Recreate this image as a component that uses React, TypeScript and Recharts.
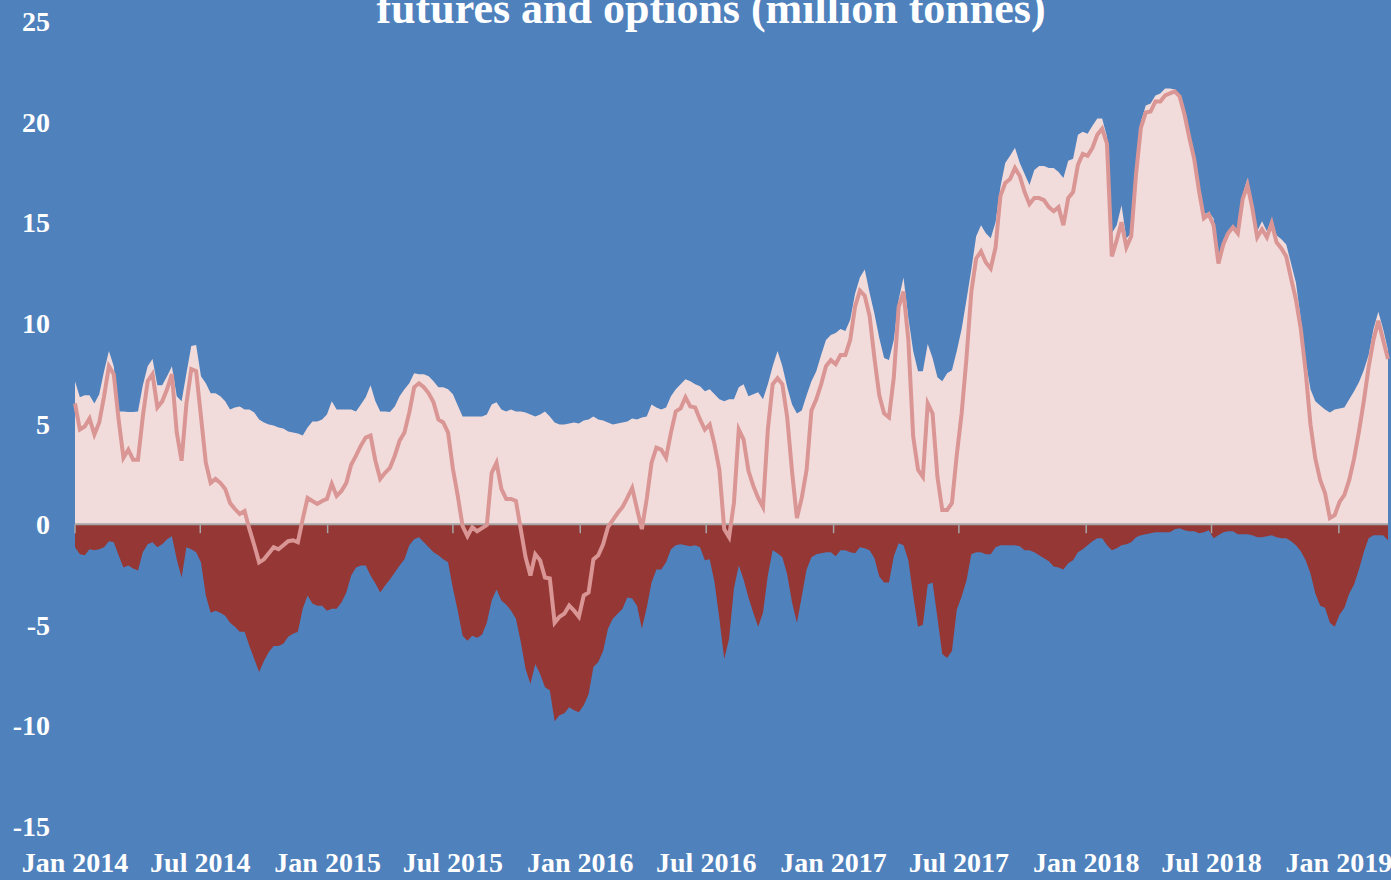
import React from 'react';
import { ComposedChart, Area, Line, XAxis, YAxis, ReferenceLine } from 'recharts';

// Weekly positions, starting first week of January 2014 (million tonnes)
const longPos = [
  7.1, 6.3, 6.4, 6.4, 6.0, 6.45, 7.6, 8.6, 7.85, 5.6,
  5.6, 5.57, 5.57, 5.6, 6.9, 7.85, 8.2, 6.9, 6.9, 7.35,
  7.85, 6.35, 6.1, 7.5, 8.85, 8.9, 7.35, 7.0, 6.5, 6.5,
  6.35, 6.1, 5.7, 5.8, 5.85, 5.7, 5.7, 5.55, 5.2, 5.05,
  4.95, 4.9, 4.8, 4.75, 4.6, 4.55, 4.5, 4.4, 4.8, 5.1,
  5.1, 5.2, 5.45, 6.1, 5.7, 5.7, 5.7, 5.7, 5.6, 5.95,
  6.3, 6.9, 6.1, 5.6, 5.6, 5.57, 5.85, 6.35, 6.7, 7.0,
  7.5, 7.45, 7.45, 7.35, 7.1, 6.8, 6.8, 6.7, 6.45, 5.9,
  5.35, 5.35, 5.35, 5.35, 5.35, 5.45, 5.95, 6.05, 5.7, 5.6,
  5.7, 5.6, 5.6, 5.55, 5.45, 5.35, 5.45, 5.6, 5.35, 5.05,
  4.95, 4.95, 5.0, 5.05, 5.0, 5.15, 5.2, 5.35, 5.2, 5.15,
  5.05, 4.95, 5.0, 5.05, 5.1, 5.25, 5.2, 5.3, 5.35, 5.95,
  5.8, 5.7, 5.8, 6.35, 6.7, 6.95, 7.2, 7.1, 6.95, 6.85,
  6.6, 6.7, 6.45, 6.2, 6.1, 6.2, 6.2, 6.8, 6.95, 6.35,
  6.45, 6.55, 6.2, 6.95, 7.85, 8.6, 7.85, 6.8, 5.95, 5.5,
  5.65, 6.4, 7.1, 7.6, 8.4, 9.15, 9.4, 9.5, 9.7, 9.6,
  10.15, 11.45, 12.25, 12.65, 11.5, 10.45, 9.25, 8.25, 8.15, 9.15,
  11.15, 12.25, 10.25, 8.6, 7.6, 7.6, 8.95, 8.25, 7.3, 7.1,
  7.5, 7.65, 8.6, 9.7, 11.15, 12.65, 14.3, 14.85, 14.45, 14.2,
  15.0, 16.75, 17.95, 18.3, 18.7, 17.95, 17.4, 16.85, 17.6, 17.8,
  17.8, 17.7, 17.7, 17.5, 17.2, 18.05, 18.15, 19.35, 19.5, 19.4,
  19.8, 20.15, 20.15, 19.25, 14.45, 14.85, 15.85, 14.2, 14.45, 17.2,
  20.0, 20.8, 20.9, 21.3, 21.4, 21.65, 21.65, 21.6, 21.35, 20.55,
  19.4, 18.25, 16.55, 15.4, 15.5, 15.2, 12.95, 14.1, 14.55, 14.85,
  14.55, 16.35, 17.2, 16.0, 14.55, 15.05, 14.55, 15.2, 14.35, 14.15,
  13.9, 12.95, 12.0, 10.2, 8.1, 6.7, 6.1, 5.9, 5.7, 5.55,
  5.7, 5.75, 5.8, 6.2, 6.6, 7.05, 7.65, 8.4, 9.7, 10.55,
  9.7, 8.65,
];

const shortPos = [
  -1.15, -1.5, -1.55, -1.25, -1.3, -1.25, -1.15, -0.85, -0.9, -1.55,
  -2.15, -2.05, -2.2, -2.3, -1.4, -1.0, -0.9, -1.15, -1.0, -0.75,
  -0.6, -1.75, -2.65, -1.15, -1.25, -1.4, -1.9, -3.55, -4.4, -4.3,
  -4.4, -4.55, -4.9, -5.1, -5.35, -5.35, -6.05, -6.7, -7.35, -6.8,
  -6.35, -6.05, -6.05, -5.95, -5.6, -5.45, -5.35, -4.2, -3.55, -3.95,
  -4.05, -4.05, -4.3, -4.2, -4.2, -3.9, -3.4, -2.55, -2.15, -2.05,
  -2.05, -2.55, -2.95, -3.4, -3.05, -2.75, -2.4, -2.05, -1.75, -1.05,
  -0.75, -0.65, -0.9, -1.15, -1.4, -1.55, -1.75, -1.9, -3.2, -4.3,
  -5.55, -5.8, -5.55, -5.65, -5.5, -4.9, -3.8, -3.25, -3.8, -4.0,
  -4.3, -4.7, -5.85, -7.2, -7.95, -6.95, -7.45, -8.1, -8.25, -9.8,
  -9.5, -9.4, -9.1, -9.25, -9.35, -9.0, -8.45, -7.1, -6.85, -6.3,
  -5.2, -4.7, -4.45, -4.2, -3.65, -3.7, -4.05, -5.2, -4.15, -2.9,
  -2.25, -2.25, -1.9, -1.25, -1.05, -1.0, -1.05, -1.1, -1.05, -1.15,
  -1.8, -1.75, -2.9, -4.7, -6.7, -5.7, -3.2, -2.05, -2.75, -3.65,
  -4.4, -5.1, -4.4, -2.55, -1.3, -1.45, -1.65, -2.5, -3.9, -4.9,
  -3.6, -2.25, -1.65, -1.5, -1.45, -1.4, -1.4, -1.6, -1.3, -1.3,
  -1.4, -1.45, -1.15, -1.2, -1.3, -1.7, -2.6, -2.9, -2.9, -1.6,
  -0.95, -1.05, -1.8, -3.55, -5.1, -5.0, -3.0, -2.9, -4.65, -6.45,
  -6.65, -6.3, -4.25, -3.6, -2.8, -1.5, -1.4, -1.4, -1.5, -1.5,
  -1.15, -1.05, -1.05, -1.05, -1.05, -1.1, -1.3, -1.3, -1.4, -1.55,
  -1.7, -1.85, -2.1, -2.15, -2.25, -1.95, -1.8, -1.4, -1.25, -1.05,
  -0.85, -0.7, -0.7, -1.05, -1.3, -1.2, -1.05, -1.0, -0.9, -0.65,
  -0.55, -0.5, -0.45, -0.4, -0.4, -0.4, -0.4, -0.25, -0.2, -0.3,
  -0.35, -0.35, -0.45, -0.4, -0.3, -0.7, -0.55, -0.4, -0.35, -0.35,
  -0.5, -0.5, -0.5, -0.55, -0.65, -0.65, -0.6, -0.55, -0.65, -0.7,
  -0.7, -0.85, -1.05, -1.35, -1.8, -2.45, -3.45, -4.05, -4.15, -4.9,
  -5.1, -4.5, -4.15, -3.45, -3.0, -2.25, -1.4, -0.7, -0.55, -0.55,
  -0.55, -0.8,
];

const netPos = [
  6.0, 4.7, 4.85, 5.25, 4.45, 5.05, 6.35, 7.85, 7.45, 5.2,
  3.3, 3.7, 3.2, 3.2, 5.35, 7.1, 7.45, 5.8, 6.1, 6.7,
  7.45, 4.55, 3.15, 6.0, 7.7, 7.6, 5.35, 3.05, 2.05, 2.25,
  2.05, 1.75, 1.05, 0.75, 0.5, 0.65, -0.25, -1.05, -1.9, -1.75,
  -1.45, -1.15, -1.25, -1.05, -0.85, -0.8, -0.9, 0.25, 1.3, 1.15,
  1.0, 1.15, 1.25, 2.0, 1.4, 1.65, 2.05, 2.95, 3.4, 3.9,
  4.3, 4.4, 3.15, 2.25, 2.55, 2.8, 3.4, 4.15, 4.55, 5.55,
  6.8, 7.0, 6.8, 6.5, 6.05, 5.2, 5.05, 4.55, 2.75, 1.4,
  -0.1, -0.6, -0.15, -0.35, -0.2, -0.05, 2.55, 3.05, 1.75, 1.25,
  1.25, 1.15, -0.25, -1.65, -2.55, -1.5, -1.8, -2.65, -2.7, -4.9,
  -4.6, -4.45, -4.05, -4.3, -4.6, -3.55, -3.4, -1.75, -1.55, -1.0,
  -0.15, 0.2, 0.55, 0.85, 1.3, 1.8, 0.75, -0.25, 1.25, 3.05,
  3.8, 3.7, 3.3, 4.55, 5.6, 5.75, 6.3, 5.85, 5.8, 5.2,
  4.7, 4.95, 3.95, 2.7, -0.25, -0.65, 1.05, 4.7, 4.2, 2.65,
  1.9, 1.3, 0.85, 4.7, 6.95, 7.25, 6.95, 5.3, 2.6, 0.3,
  1.3, 2.7, 5.65, 6.2, 6.95, 7.85, 8.15, 7.95, 8.4, 8.4,
  9.15, 10.8, 11.6, 11.35, 10.35, 8.25, 6.4, 5.5, 5.3, 7.3,
  10.8, 11.55, 9.15, 4.35, 2.7, 2.35, 6.0, 5.5, 2.35, 0.7,
  0.7, 1.05, 3.45, 5.5, 8.25, 11.55, 13.2, 13.55, 13.0, 12.7,
  13.75, 16.3, 16.95, 17.15, 17.7, 17.3, 16.5, 15.9, 16.2, 16.2,
  16.1, 15.75, 15.55, 15.75, 14.85, 16.2, 16.5, 17.85, 18.4, 18.3,
  18.7, 19.35, 19.65, 18.9, 13.3, 14.1, 15.0, 13.75, 14.3, 17.4,
  19.7, 20.45, 20.5, 21.0, 21.0, 21.3, 21.4, 21.5, 21.25, 20.35,
  19.2, 18.15, 16.55, 15.2, 15.4, 14.85, 12.95, 13.9, 14.45, 14.75,
  14.45, 16.15, 16.85, 15.7, 14.25, 14.65, 14.25, 14.95, 14.0, 13.7,
  13.3, 12.2, 11.15, 9.7, 7.6, 4.95, 3.25, 2.2, 1.55, 0.3,
  0.45, 1.1, 1.45, 2.2, 3.25, 4.6, 6.1, 7.8, 9.15, 10.1,
  9.15, 8.2,
];

const tickLabels = [
  'Jan 2014', 'Jul 2014', 'Jan 2015', 'Jul 2015', 'Jan 2016', 'Jul 2016',
  'Jan 2017', 'Jul 2017', 'Jan 2018', 'Jul 2018', 'Jan 2019',
];
const tickDates = [
  '2014-01-01', '2014-07-01', '2015-01-01', '2015-07-01', '2016-01-01', '2016-07-01',
  '2017-01-01', '2017-07-01', '2018-01-01', '2018-07-01', '2019-01-01',
];
const yTicks = [-15, -10, -5, 0, 5, 10, 15, 20, 25];
const titleText = 'futures and options (million tonnes)';

const START = Date.UTC(2014, 0, 1);
const WEEK_MS = 7 * 86400000;
const tickWeeks = tickDates.map((d) => (Date.parse(d + 'T00:00:00Z') - START) / WEEK_MS);
const lastWeek = netPos.length - 1;

const data = netPos.map((n, i) => ({
  week: i,
  long: longPos[i],
  short: shortPos[i],
  net: n,
}));

const FONT = '"Liberation Serif", "Times New Roman", serif';
const BG = '#4f81bd';
const LONG_FILL = '#f2dcdb';
const SHORT_FILL = '#953735';
const NET_LINE = '#d99694';
const AXIS_GREY = '#a6a6a6';

const XTick = (props: any) => {
  const { x, index } = props;
  return (
    <text x={x} y={872} textAnchor="middle" fill="#ffffff" fontFamily={FONT} fontWeight="bold" fontSize={28}>
      {tickLabels[index]}
    </text>
  );
};

const YTick = (props: any) => {
  const { y, payload } = props;
  return (
    <text x={50} y={y} dy="0.36em" textAnchor="end" fill="#ffffff" fontFamily={FONT} fontWeight="bold" fontSize={28}>
      {String(payload.value)}
    </text>
  );
};

export default function App() {
  return (
    <div
      style={{
        position: 'absolute',
        left: 0,
        top: 0,
        width: 1391,
        height: 880,
        background: BG,
        overflow: 'hidden',
      }}
    >
      <ComposedChart
        width={1391}
        height={880}
        data={data}
        margin={{ top: 21, right: 3, bottom: 0, left: 0 }}
      >
        <XAxis
          dataKey="week"
          type="number"
          domain={[0, lastWeek]}
          ticks={tickWeeks}
          interval={0}
          axisLine={false}
          tickLine={false}
          height={54}
          tick={<XTick />}
        />
        <YAxis
          type="number"
          domain={[-15, 25]}
          ticks={yTicks}
          interval={0}
          axisLine={false}
          tickLine={false}
          width={75}
          tick={<YTick />}
        />
        <Area
          dataKey="long"
          type="linear"
          baseValue={0}
          fill={LONG_FILL}
          fillOpacity={1}
          stroke="none"
          isAnimationActive={false}
        />
        <Area
          dataKey="short"
          type="linear"
          baseValue={0}
          fill={SHORT_FILL}
          fillOpacity={1}
          stroke="none"
          isAnimationActive={false}
        />
        <ReferenceLine y={0} stroke={AXIS_GREY} strokeWidth={2} />
        {tickWeeks.map((w, i) => (
          <ReferenceLine
            key={'t' + i}
            segment={[{ x: w, y: 0 }, { x: w, y: -0.45 }]}
            stroke={AXIS_GREY}
            strokeWidth={1.5}
          />
        ))}
        <Line
          dataKey="net"
          type="linear"
          stroke={NET_LINE}
          strokeWidth={4}
          dot={false}
          activeDot={false}
          isAnimationActive={false}
        />
      </ComposedChart>
      <svg
        width={1391}
        height={880}
        style={{ position: 'absolute', left: 0, top: 0, pointerEvents: 'none' }}
      >
        <text
          x={711}
          y={23}
          textAnchor="middle"
          fill="#ffffff"
          fontFamily={FONT}
          fontWeight="bold"
          fontSize={44}
        >
          {titleText}
        </text>
      </svg>
    </div>
  );
}
